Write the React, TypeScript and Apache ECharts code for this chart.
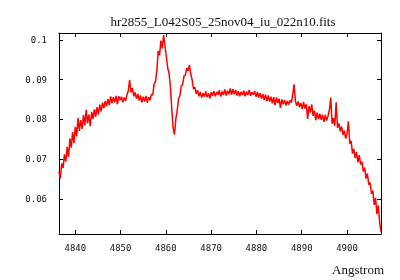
import React, { useEffect, useRef } from "react";
import * as echarts from "echarts";

const TITLE = "hr2855_L042S05_25nov04_iu_022n10.fits";
const X_NAME = "Angstrom";
// FITS-style linear wavelength grid
const CRVAL1 = 4836.4;
const CDELT1 = 0.3;
const X_MIN = 4836.4;
const X_MAX = 4907.5;
const Y_MIN = 0.0512;
const Y_MAX = 0.1017;
const xTicks = [4840, 4850, 4860, 4870, 4880, 4890, 4900];
const yTicks = [0.06, 0.07, 0.08, 0.09, 0.1];

const flux = [
  0.0668, 0.0652, 0.0689, 0.0678, 0.0712, 0.0694, 0.0731, 0.0705, 0.0752, 0.0729,
  0.0768, 0.0740, 0.0781, 0.0757, 0.0803, 0.0771, 0.0798, 0.0776, 0.0811, 0.0785,
  0.0824, 0.0790, 0.0812, 0.0783, 0.0819, 0.0801, 0.0825, 0.0807, 0.0831, 0.0812,
  0.0837, 0.0820, 0.0842, 0.0828, 0.0846, 0.0833, 0.0851, 0.0836, 0.0858, 0.0840,
  0.0856, 0.0843, 0.0859, 0.0838, 0.0858, 0.0849, 0.0857, 0.0843, 0.0855, 0.0846,
  0.0861, 0.0872, 0.0899, 0.0868, 0.0879, 0.0858, 0.0868, 0.0852, 0.0864, 0.0847,
  0.0860, 0.0843, 0.0857, 0.0845, 0.0859, 0.0842, 0.0856, 0.0848, 0.0863, 0.0861,
  0.0889, 0.0895, 0.0921, 0.0972, 0.0961, 0.0998, 0.0978, 0.1012, 0.0985, 0.0958,
  0.0929, 0.0916, 0.0882, 0.0826, 0.0779, 0.0762, 0.0801, 0.0822, 0.0852, 0.0859,
  0.0885, 0.0887, 0.0909, 0.0911, 0.0929, 0.0922, 0.0937, 0.0914, 0.0899, 0.0876,
  0.0881, 0.0864, 0.0873, 0.0858, 0.0869, 0.0855, 0.0866, 0.0857, 0.0870, 0.0856,
  0.0865, 0.0853, 0.0868, 0.0859, 0.0871, 0.0858, 0.0869, 0.0862, 0.0873, 0.0857,
  0.0870, 0.0861, 0.0875, 0.0860, 0.0872, 0.0863, 0.0878, 0.0862, 0.0876, 0.0863,
  0.0874, 0.0860, 0.0871, 0.0858, 0.0869, 0.0861, 0.0872, 0.0858, 0.0870, 0.0861,
  0.0874, 0.0859, 0.0868, 0.0862, 0.0871, 0.0857, 0.0869, 0.0855, 0.0866, 0.0852,
  0.0864, 0.0849, 0.0862, 0.0846, 0.0860, 0.0845, 0.0857, 0.0840, 0.0856, 0.0836,
  0.0855, 0.0841, 0.0852, 0.0829, 0.0850, 0.0838, 0.0849, 0.0835, 0.0846, 0.0837,
  0.0848, 0.0842, 0.0861, 0.0888, 0.0846, 0.0834, 0.0845, 0.0831, 0.0841, 0.0826,
  0.0844, 0.0827, 0.0838, 0.0801, 0.0833, 0.0817, 0.0838, 0.0809, 0.0822, 0.0798,
  0.0817, 0.0801, 0.0814, 0.0799, 0.0812, 0.0794, 0.0811, 0.0797, 0.0808, 0.0823,
  0.0855, 0.0789, 0.0803, 0.0784, 0.0843, 0.0779, 0.0790, 0.0770, 0.0782, 0.0761,
  0.0772, 0.0752, 0.0764, 0.0795, 0.0739, 0.0746, 0.0714, 0.0726, 0.0703, 0.0718,
  0.0692, 0.0710, 0.0687, 0.0694, 0.0669, 0.0679, 0.0651, 0.0664, 0.0636, 0.0641,
  0.0613, 0.0621, 0.0585, 0.0603, 0.0562, 0.0584, 0.0541, 0.0518,
];

export default function App() {
  const ref = useRef<HTMLDivElement>(null);
  useEffect(() => {
    if (!ref.current) return;
    const chart = echarts.init(ref.current, undefined, { renderer: "svg" });
    const data = flux.map((f, i) => [CRVAL1 + i * CDELT1, f]);
    const labelFont = { fontFamily: "DejaVu Sans Mono", fontSize: 9, color: "#111" };
    const axisLine = { show: true, lineStyle: { color: "#000", width: 1 } };
    const tick = (vals: number[]) => ({
      show: true,
      inside: true,
      length: 4,
      customValues: vals,
      lineStyle: { color: "#000", width: 1 },
    });
    chart.setOption({
      animation: false,
      title: {
        text: TITLE,
        left: 218,
        top: 10,
        textAlign: "center",
        textStyle: { fontFamily: "Liberation Serif", fontSize: 13, fontWeight: "normal", color: "#111" },
      },
      grid: { left: 59, right: 19, top: 33, bottom: 46, containLabel: false },
      xAxis: [
        {
          type: "value",
          min: X_MIN,
          max: X_MAX,
          position: "bottom",
          axisLine,
          axisTick: tick(xTicks),
          axisLabel: { ...labelFont, margin: 9, customValues: xTicks, formatter: (v: number) => String(v) },
          splitLine: { show: false },
        },
        {
          type: "value",
          min: X_MIN,
          max: X_MAX,
          position: "top",
          axisLine,
          axisTick: tick(xTicks),
          axisLabel: { show: false },
          splitLine: { show: false },
        },
      ],
      yAxis: [
        {
          type: "value",
          min: Y_MIN,
          max: Y_MAX,
          position: "left",
          axisLine,
          axisTick: tick(yTicks),
          axisLabel: { ...labelFont, margin: 12, customValues: yTicks, formatter: (v: number) => String(v) },
          splitLine: { show: false },
        },
        {
          type: "value",
          min: Y_MIN,
          max: Y_MAX,
          position: "right",
          axisLine,
          axisTick: tick(yTicks),
          axisLabel: { show: false },
          splitLine: { show: false },
        },
      ],
      graphic: [
        {
          type: "text",
          right: 16,
          top: 263,
          style: { text: X_NAME, font: '13px "Liberation Serif"', fill: "#111" },
        },
      ],
      series: [
        {
          type: "line",
          data,
          xAxisIndex: 0,
          yAxisIndex: 0,
          symbol: "none",
          lineStyle: { color: "#ff0000", width: 1.5 },
          clip: true,
        },
      ],
    });
    return () => chart.dispose();
  }, []);
  return <div ref={ref} style={{ position: "fixed", left: 0, top: 0, width: 400, height: 280 }} />;
}
